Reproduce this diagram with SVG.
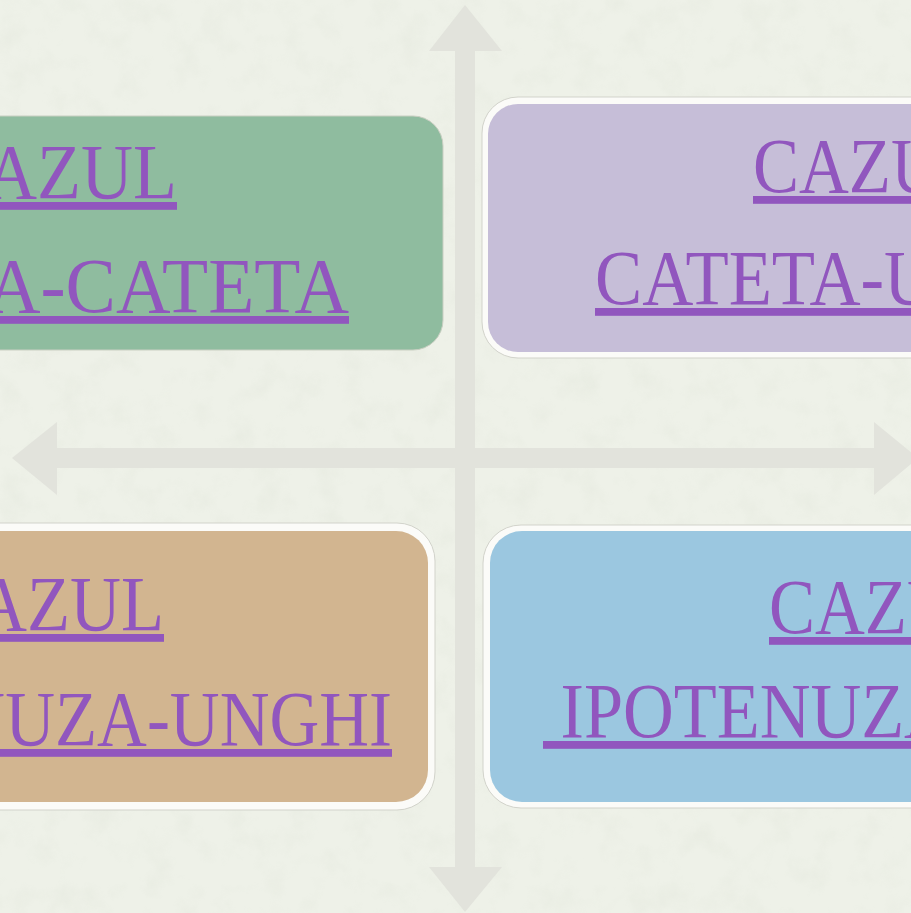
<svg xmlns="http://www.w3.org/2000/svg" width="911" height="913" viewBox="0 0 911 913">
<defs>
<style>
.lbl{font-family:"Liberation Serif","Times New Roman",serif;font-size:78px;fill:#9156be;text-decoration:underline;text-decoration-thickness:3.5px;}
.arrow{fill:#e2e3dc;}
.rim{fill:#fbfbf8;stroke:#d2d3cb;stroke-width:1;}
</style>
<filter id="paper" x="0" y="0" width="100%" height="100%">
<feTurbulence type="fractalNoise" baseFrequency="0.035" numOctaves="4" seed="3"/>
<feColorMatrix type="matrix" values="0 0 0 0 0.55  0 0 0 0 0.6  0 0 0 0 0.5  0 0 0 1.2 -0.55"/>
</filter>
</defs>
<rect width="911" height="913" fill="#eef1e8"/>
<rect width="911" height="913" filter="url(#paper)" opacity="0.2"/>
<g id="connectors">
<rect class="arrow" x="455" y="48" width="20" height="822"/>
<polygon class="arrow" points="465,5 502,51 429,51"/>
<polygon class="arrow" points="429,867 502,867 465,912"/>
<rect class="arrow" x="55" y="448" width="822" height="20"/>
<polygon class="arrow" points="12,458 57,422 57,495"/>
<polygon class="arrow" points="874,422 874,495 918,458"/>
</g>
<g id="node-cateta-cateta">
<rect x="-60" y="116" width="503" height="234" rx="30" fill="#8fbc9f" stroke="#c9cfc2" stroke-width="1"/>
<text class="lbl" x="177" y="198" text-anchor="end" textLength="240" lengthAdjust="spacingAndGlyphs">CAZUL</text>
<text class="lbl" x="349" y="312" text-anchor="end" textLength="592" lengthAdjust="spacingAndGlyphs">CATETA-CATETA</text>
</g>
<g id="node-cateta-unghi">
<rect class="rim" x="482" y="97" width="520" height="261" rx="36"/>
<rect x="488" y="104" width="520" height="248" rx="30" fill="#c6bed8"/>
<text class="lbl" x="753" y="192" textLength="230" lengthAdjust="spacingAndGlyphs">CAZUL</text>
<text class="lbl" x="595" y="304" textLength="517" lengthAdjust="spacingAndGlyphs">CATETA-UNGHI</text>
</g>
<g id="node-ipotenuza-unghi">
<rect class="rim" x="-60" y="523" width="495" height="287" rx="38"/>
<rect x="-60" y="531" width="488" height="271" rx="32" fill="#d2b590"/>
<text class="lbl" x="164" y="630" text-anchor="end" textLength="235" lengthAdjust="spacingAndGlyphs">CAZUL</text>
<text class="lbl" x="392" y="745" text-anchor="end" textLength="632" lengthAdjust="spacingAndGlyphs">IPOTENUZA-UNGHI</text>
</g>
<g id="node-ipotenuza-cateta">
<rect class="rim" x="483" y="525" width="520" height="283" rx="38"/>
<rect x="490" y="531" width="520" height="271" rx="32" fill="#9bc7e0"/>
<text class="lbl" x="769" y="633" textLength="230" lengthAdjust="spacingAndGlyphs">CAZUL</text>
<text class="lbl" x="543" y="737" xml:space="preserve" textLength="699" lengthAdjust="spacingAndGlyphs"> IPOTENUZA-CATETA</text>
</g>
</svg>
